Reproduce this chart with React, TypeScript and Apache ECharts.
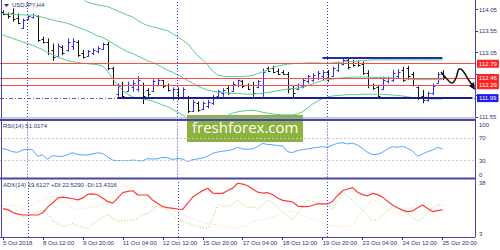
import { useEffect, useRef } from 'react';
import * as echarts from 'echarts';

const title = 'USDJPY,H4';
const tickLabels = ['5 Oct 2018', '8 Oct 12:00', '9 Oct 20:00', '11 Oct 04:00', '12 Oct 12:00', '15 Oct 20:00', '17 Oct 04:00', '18 Oct 12:00', '19 Oct 20:00', '23 Oct 04:00', '24 Oct 12:00', '25 Oct 20:00'];
const weekStarts = [5, 35, 65];
const emptyShift = 6;

const open = [114.0, 113.95, 113.96, 113.85, 113.63, 113.82, 113.87, 113.9, 113.36, 113.3,
  113.1, 112.98, 113.18, 113.1, 113.2, 113.3, 113.05, 112.97, 113.05, 113.08,
  113.14, 113.25, 112.7, 112.08, 112.3, 112.16, 112.25, 112.2, 112.3, 112.18,
  112.16, 112.3, 112.4, 112.3, 112.0, 112.2, 112.0, 112.0, 111.7, 111.88,
  111.74, 111.8, 111.88, 112.04, 112.1, 112.22, 112.15, 112.3, 112.38, 112.3,
  112.3, 112.25, 112.1, 112.68, 112.7, 112.62, 112.6, 112.56, 112.22, 112.2,
  112.28, 112.38, 112.42, 112.45, 112.5, 112.6, 112.5, 112.65, 112.78, 112.88,
  112.8, 112.8, 112.78, 112.58, 112.3, 112.25, 112.2, 112.38, 112.42, 112.5,
  112.65, 112.68, 112.55, 112.25, 112.05, 111.95, 112.1, 112.35, 112.55];
const close = [113.95, 113.9, 113.82, 113.74, 113.8, 113.9, 113.93, 113.35, 113.3, 113.05,
  112.95, 113.2, 113.05, 113.3, 113.32, 113.0, 112.95, 113.08, 113.12, 113.16,
  113.25, 112.7, 112.3, 112.28, 112.05, 112.3, 112.35, 112.42, 112.05, 112.08,
  112.38, 112.42, 112.28, 112.18, 112.2, 112.0, 112.2, 111.7, 111.9, 111.72,
  111.88, 111.9, 112.02, 112.15, 112.18, 112.12, 112.32, 112.4, 112.28, 112.2,
  112.1, 112.38, 112.6, 112.62, 112.6, 112.56, 112.55, 112.2, 112.1, 112.3,
  112.4, 112.5, 112.52, 112.58, 112.6, 112.45, 112.68, 112.8, 112.88, 112.72,
  112.76, 112.75, 112.58, 112.3, 112.22, 112.05, 112.42, 112.45, 112.58, 112.6,
  112.42, 112.5, 112.3, 112.0, 111.95, 112.1, 112.28, 112.55, 112.48];
const high = [114.03, 113.98, 114.08, 113.96, 113.84, 113.92, 113.96, 113.92, 113.42, 113.38,
  113.26, 113.26, 113.22, 113.38, 113.38, 113.34, 113.11, 113.11, 113.15, 113.2,
  113.28, 113.3, 112.72, 112.33, 112.37, 112.37, 112.41, 112.5, 112.35, 112.22,
  112.42, 112.45, 112.41, 112.33, 112.24, 112.24, 112.24, 112.04, 111.95, 111.91,
  111.91, 111.95, 112.06, 112.18, 112.22, 112.27, 112.37, 112.42, 112.41, 112.33,
  112.37, 112.41, 112.68, 112.72, 112.74, 112.68, 112.64, 112.6, 112.29, 112.33,
  112.45, 112.53, 112.57, 112.62, 112.64, 112.64, 112.72, 112.84, 112.92, 112.9,
  112.88, 112.86, 112.84, 112.64, 112.33, 112.29, 112.49, 112.49, 112.64, 112.66,
  112.72, 112.74, 112.6, 112.26, 112.18, 112.14, 112.33, 112.6, 112.64];
const low = [113.92, 113.84, 113.77, 113.71, 113.6, 113.8, 113.84, 113.3, 113.26, 112.99,
  112.86, 112.95, 112.99, 113.07, 113.11, 112.95, 112.91, 112.95, 112.99, 113.03,
  113.11, 112.64, 112.29, 112.02, 111.98, 112.14, 112.14, 112.14, 111.85, 112.02,
  112.14, 112.26, 112.22, 112.14, 111.95, 111.95, 111.96, 111.64, 111.67, 111.67,
  111.71, 111.75, 111.83, 112.02, 112.02, 112.06, 112.14, 112.24, 112.22, 112.18,
  112.02, 112.22, 112.02, 112.6, 112.57, 112.53, 112.53, 112.1, 111.98, 112.18,
  112.22, 112.33, 112.37, 112.41, 112.41, 112.37, 112.49, 112.6, 112.75, 112.66,
  112.72, 112.72, 112.53, 112.22, 112.18, 111.98, 112.18, 112.33, 112.37, 112.45,
  112.37, 112.41, 112.26, 111.95, 111.87, 111.91, 112.06, 112.33, 112.41];

const bbUpper = [114.95, 114.92, 114.9, 114.87, 114.85, 114.82, 114.78, 114.75, 114.7, 114.65,
  114.6, 114.55, 114.5, 114.45, 114.4, 114.35, 114.3, 114.22, 114.19, 114.16,
  114.14, 114.12, 114.07, 114.02, 113.97, 113.92, 113.88, 113.8, 113.73, 113.68,
  113.65, 113.62, 113.59, 113.56, 113.49, 113.42, 113.34, 113.26, 113.12, 112.98,
  112.88, 112.77, 112.62, 112.53, 112.5, 112.49, 112.49, 112.49, 112.49, 112.5,
  112.52, 112.56, 112.6, 112.64, 112.69, 112.73, 112.76, 112.78, 112.79, 112.8,
  112.8, 112.81, 112.81, 112.81, 112.8, 112.8, 112.81, 112.82, 112.83, 112.84,
  112.84, 112.85, 112.86, 112.87, 112.88, 112.88, 112.88, 112.88, 112.88, 112.88,
  112.88, 112.88, 112.88, 112.88, 112.88, 112.88, 112.88, 112.88, 112.88];
const bbMiddle = [113.96, 113.95, 113.94, 113.93, 113.93, 113.92, 113.92, 113.9, 113.87, 113.84,
  113.81, 113.78, 113.76, 113.73, 113.69, 113.64, 113.6, 113.55, 113.5, 113.44,
  113.4, 113.34, 113.27, 113.2, 113.13, 113.07, 113.03, 112.97, 112.92, 112.86,
  112.82, 112.77, 112.7, 112.64, 112.59, 112.53, 112.47, 112.4, 112.34, 112.27,
  112.22, 112.18, 112.15, 112.13, 112.12, 112.11, 112.1, 112.1, 112.09, 112.08,
  112.08, 112.09, 112.1, 112.12, 112.14, 112.16, 112.18, 112.2, 112.21, 112.22,
  112.24, 112.28, 112.32, 112.36, 112.4, 112.42, 112.43, 112.45, 112.46, 112.47,
  112.48, 112.48, 112.48, 112.48, 112.47, 112.47, 112.47, 112.46, 112.46, 112.45,
  112.44, 112.43, 112.43, 112.42, 112.42, 112.42, 112.42, 112.42, 112.42];
const bbLower = [113.46, 113.42, 113.38, 113.34, 113.3, 113.26, 113.22, 113.17, 113.12, 113.05,
  113.0, 112.95, 112.9, 112.86, 112.84, 112.82, 112.8, 112.79, 112.78, 112.77,
  112.74, 112.62, 112.45, 112.3, 112.17, 112.08, 112.02, 111.99, 111.97, 111.95,
  111.92, 111.88, 111.83, 111.79, 111.73, 111.66, 111.6, 111.52, 111.45, 111.42,
  111.4, 111.39, 111.4, 111.45, 111.52, 111.58, 111.64, 111.67, 111.69, 111.7,
  111.71, 111.69, 111.66, 111.64, 111.62, 111.61, 111.6, 111.6, 111.6, 111.62,
  111.67, 111.76, 111.85, 111.92, 111.98, 112.02, 112.04, 112.05, 112.06, 112.07,
  112.07, 112.07, 112.08, 112.08, 112.08, 112.08, 112.08, 112.07, 112.06, 112.05,
  112.04, 112.02, 112.0, 111.99, 111.98, 111.98, 111.97, 111.97, 111.97];

const rsi = [52, 49.5, 46, 45, 49, 50.5, 49.5, 38, 40, 32.5,
  39, 38, 37.5, 41, 44.5, 41, 40.5, 40, 42, 44,
  43, 37, 31, 30, 30.5, 30, 31, 30.5, 29.5, 33.5,
  33, 33.5, 36, 35, 32, 34, 33, 28.5, 32, 33,
  35, 38, 43, 45.5, 47, 48, 50, 54, 51, 50.5,
  51, 55, 61, 59, 58.5, 57, 56.5, 46, 44.5, 48,
  50, 51, 52.5, 54, 55, 53.5, 58, 61, 62, 60,
  61.5, 58, 52, 45, 41, 41.5, 45, 51, 55, 54,
  55.5, 52, 47, 38, 42, 46, 49, 54, 51.0174];
const adx = [20.4, 19.8, 18, 17, 16.5, 16.5, 16.5, 16.5, 18, 21.5,
  24, 27, 27.5, 27, 26.5, 25.8, 27, 29.3, 29.5, 28.8,
  26.8, 24.7, 23.8, 27, 30.2, 31, 31.4, 28.8, 28.8, 28.8,
  25.5, 23.5, 21.6, 21, 20.6, 20.2, 20, 24, 27.5, 29.5,
  31.5, 32.9, 30, 29.8, 29.8, 31.5, 33, 36, 35.5, 34.5,
  32.5, 30.5, 30, 30.2, 29, 27, 25.5, 25, 24.5, 22,
  21.6, 21.6, 22.5, 23.3, 23.3, 23.3, 25, 28.5, 31.4, 32.5,
  33.3, 30.5, 29, 28.3, 29.8, 29, 27.5, 25, 22.7, 21,
  19.5, 18.6, 19, 21, 22.7, 20.5, 18.6, 19.2, 19.6127];
const plusDI = [19.5, 19, 18.3, 17, 15.8, 16, 17.2, 18.5, 19.6, 17,
  13, 11, 9.5, 10.5, 11.4, 9.8, 8.8, 8.3, 11, 13.4,
  15, 17, 14.5, 12.6, 13, 13.2, 13.4, 14.5, 16.5, 17.5,
  20, 22.7, 21, 19.6, 16, 13.8, 12.5, 11.5, 10.4, 9.5,
  8.8, 8.3, 15, 22.7, 22, 21.6, 23.5, 25.7, 23, 21,
  21.5, 20.5, 23, 25.7, 24, 21.5, 18.5, 16, 13.5, 17.5,
  22, 25.7, 24.7, 23.7, 23.2, 22.7, 20, 25, 30.8, 28,
  25.7, 22.5, 19.6, 16.5, 13, 13.5, 16.5, 19.5, 21, 20.5,
  19, 17.5, 15, 13, 14.5, 18, 21, 22.7, 22.529];
const minusDI = [21.8, 22.2, 22.7, 21.5, 20, 21, 23, 24.5, 25.8, 27,
  28.2, 26, 24, 22.7, 21, 19.8, 20.5, 21.2, 21.6, 22.2,
  23, 23.7, 27.5, 32, 34.9, 34, 32.9, 29, 25.7, 23.5,
  21.6, 21.2, 20.9, 20.6, 19.5, 18, 16.5, 15.5, 14, 12.7,
  12, 11.3, 10.8, 10.4, 9.6, 9, 8.3, 8.8, 9.3, 10,
  12.5, 13, 13.4, 14.3, 15.5, 16.5, 18, 19.3, 18.5, 17.5,
  16, 15.5, 14, 12.5, 11.5, 10.4, 10, 9.5, 9.3, 9.8,
  10.4, 15, 19.6, 23, 26, 25, 22, 20, 18.5, 17,
  15.5, 18, 21.5, 25.7, 23, 19.6, 17, 15, 13.4316];

const redLevels = [112.79, 112.46, 112.29];
const supportLevel = 111.99;
const supportStart = 23;
const topLevel = 112.93;
const topStart = 64;
const rsiLevels = [30, 70];
const rsiTicks = [0, 30, 70, 100];

const NAVY = '#30307a';
const FRAME = '#4646a8';
const FONT = 'Liberation Sans';

export default function App() {
  const ref = useRef<HTMLDivElement>(null);
  useEffect(() => {
    if (!ref.current) return;
    const chart = echarts.init(ref.current, undefined, { renderer: 'svg' });
    const n = close.length;
    const total = n + emptyShift;
    const cats = Array.from({ length: total }, (_, i) => String(i));
    const ohlc = close.map((c, i) => [i, open[i], c, low[i], high[i]]);
    const isTick = (i: number) => i % 8 === 0 && i / 8 < tickLabels.length;
    const boxLevels = [...redLevels, supportLevel];
    const hiddenByBox = (v: number) => boxLevels.some((b) => Math.abs(b - v) < 0.12);
    const weekLines = weekStarts.map((w) => ({ xAxis: String(w) }));
    const weekMark = {
      silent: true, symbol: 'none', label: { show: false },
      lineStyle: { color: '#3a3ac8', type: [1, 2], width: 1 },
      data: weekLines,
    };
    const xBase = (gi: number) => ({
      type: 'category', gridIndex: gi, data: cats, boundaryGap: true,
      axisLine: { show: false }, axisTick: { show: false }, axisLabel: { show: false }, splitLine: { show: false },
    });
    const option: any = {
      animation: false,
      textStyle: { fontFamily: FONT },
      grid: [
        { left: 0, right: 25, top: 1, height: 116 },
        { left: 0, right: 25, top: 121.5, height: 56 },
        { left: 0, right: 25, top: 180, height: 57 },
      ],
      xAxis: [
        xBase(0), xBase(1),
        {
          ...xBase(2),
          axisLine: { show: true, lineStyle: { color: FRAME, width: 1 } },
          axisTick: { show: true, interval: (i: number) => isTick(i), alignWithLabel: true, length: 3, lineStyle: { color: NAVY } },
          axisLabel: {
            show: true, interval: (i: number) => isTick(i), align: 'left', fontSize: 6, color: NAVY, margin: 3,
            fontFamily: FONT, formatter: (_v: string, i: number) => tickLabels[i / 8] ?? '',
          },
        },
      ],
      yAxis: [
        {
          type: 'value', gridIndex: 0, position: 'right', min: 111.55, max: 114.25, interval: 0.5,
          axisLine: { show: false }, splitLine: { show: false },
          axisTick: { show: true, length: 3, lineStyle: { color: NAVY } },
          axisLabel: {
            fontSize: 6, color: NAVY, margin: 4, fontFamily: FONT, showMaxLabel: false,
            formatter: (v: number) => (hiddenByBox(v) ? '' : v.toFixed(2)),
          },
        },
        {
          type: 'value', gridIndex: 1, position: 'right', min: 0, max: 100, interval: 10,
          axisLine: { show: false }, splitLine: { show: false }, axisTick: { show: false },
          axisLabel: {
            fontSize: 6, color: NAVY, margin: 4, fontFamily: FONT,
            verticalAlignMinLabel: 'bottom', verticalAlignMaxLabel: 'top',
            formatter: (v: number) => (rsiTicks.includes(Math.round(v)) ? String(Math.round(v)) : ''),
          },
        },
        {
          type: 'value', gridIndex: 2, position: 'right', min: 3, max: 38, interval: 35,
          axisLine: { show: false }, splitLine: { show: false }, axisTick: { show: false },
          axisLabel: { fontSize: 6, color: NAVY, margin: 4, fontFamily: FONT, verticalAlignMinLabel: 'bottom', verticalAlignMaxLabel: 'top' },
        },
      ],
      series: [
        {
          type: 'line', name: 'bbU', xAxisIndex: 0, yAxisIndex: 0, data: bbUpper, symbol: 'none',
          lineStyle: { color: '#5cc98e', width: 1 }, silent: true,
        },
        {
          type: 'line', name: 'bbM', xAxisIndex: 0, yAxisIndex: 0, data: bbMiddle, symbol: 'none',
          lineStyle: { color: '#5cc98e', width: 1 }, silent: true,
        },
        {
          type: 'line', name: 'bbL', xAxisIndex: 0, yAxisIndex: 0, data: bbLower, symbol: 'none',
          lineStyle: { color: '#5cc98e', width: 1 }, silent: true,
          markLine: weekMark,
        },
        {
          type: 'line', name: 'levels', xAxisIndex: 0, yAxisIndex: 0, data: [], silent: true,
          markLine: {
            silent: true, symbol: 'none',
            data: [
              ...redLevels.map((v) => ({
                yAxis: v, lineStyle: { color: '#ff4a4a', width: 1, type: 'solid' },
                label: { show: true, position: 'end', formatter: v.toFixed(2), backgroundColor: '#ff2222', color: '#fff', fontSize: 6, padding: [1, 2, 1, 2], distance: 2, fontFamily: FONT },
              })),
              {
                yAxis: supportLevel, lineStyle: { color: '#5a5ad8', width: 1, type: [4, 2, 1, 2] },
                label: { show: true, position: 'end', formatter: supportLevel.toFixed(2), backgroundColor: '#1e1ee6', color: '#fff', fontSize: 6, padding: [1, 2, 1, 2], distance: 2, fontFamily: FONT },
              },
              [
                { coord: [String(supportStart), supportLevel], lineStyle: { color: '#1c1c90', width: 2, type: 'solid' }, label: { show: false } },
                { coord: [String(total - 1), supportLevel] },
              ],
              [
                { coord: [String(topStart), topLevel], lineStyle: { color: '#2a2aa8', width: 2, type: 'solid' }, label: { show: false } },
                { coord: [String(n - 1), topLevel] },
              ],
            ],
          },
        },
        {
          type: 'custom', name: 'price', xAxisIndex: 0, yAxisIndex: 0, data: ohlc, clip: true,
          encode: { x: 0, y: [1, 2, 3, 4] },
          renderItem: (_p: any, api: any) => {
            const i = api.value(0);
            const o = api.value(1), c = api.value(2), l = api.value(3), h = api.value(4);
            const pH = api.coord([i, h]);
            const pL = api.coord([i, l]);
            const pO = api.coord([i, o]);
            const pC = api.coord([i, c]);
            const color = c >= o ? '#2c2cf0' : '#141414';
            const x = Math.round(pH[0]) + 0.5;
            const st = { stroke: color, lineWidth: 1 };
            return {
              type: 'group',
              children: [
                { type: 'line', shape: { x1: x, y1: pH[1], x2: x, y2: pL[1] }, style: st },
                { type: 'line', shape: { x1: x - 2, y1: Math.round(pO[1]) + 0.5, x2: x, y2: Math.round(pO[1]) + 0.5 }, style: st },
                { type: 'line', shape: { x1: x, y1: Math.round(pC[1]) + 0.5, x2: x + 2, y2: Math.round(pC[1]) + 0.5 }, style: st },
              ],
            };
          },
        },
        {
          type: 'line', name: 'RSI', xAxisIndex: 1, yAxisIndex: 1, data: rsi, symbol: 'none',
          lineStyle: { color: '#4ea6ff', width: 1 }, silent: true,
          markLine: {
            silent: true, symbol: 'none', label: { show: false },
            data: [
              ...rsiLevels.map((v) => ({ yAxis: v, lineStyle: { color: '#c8c8c8', type: [2, 2], width: 1 } })),
              ...weekLines.map((w) => ({ ...w, lineStyle: { color: '#3a3ac8', type: [1, 2], width: 1 } })),
            ],
          },
        },
        {
          type: 'line', name: '+DI', xAxisIndex: 2, yAxisIndex: 2, data: plusDI, symbol: 'none',
          lineStyle: { color: '#a6d24a', width: 1, type: [1, 2] }, silent: true,
          markLine: weekMark,
        },
        {
          type: 'line', name: '-DI', xAxisIndex: 2, yAxisIndex: 2, data: minusDI, symbol: 'none',
          lineStyle: { color: '#ffcc99', width: 1, type: [1, 2] }, silent: true,
        },
        {
          type: 'line', name: 'ADX', xAxisIndex: 2, yAxisIndex: 2, data: adx, symbol: 'none',
          lineStyle: { color: '#ff3a3a', width: 1.2 }, silent: true,
        },
      ],
      graphic: [
        { type: 'line', shape: { x1: 1.5, y1: 0, x2: 1.5, y2: 237 }, style: { stroke: FRAME, lineWidth: 1 }, z: 10 },
        { type: 'line', shape: { x1: 475.5, y1: 0, x2: 475.5, y2: 237 }, style: { stroke: FRAME, lineWidth: 1 }, z: 10 },
        { type: 'line', shape: { x1: 0, y1: 118, x2: 476, y2: 118 }, style: { stroke: '#9a9ad0', lineWidth: 1 }, z: 10 },
        { type: 'rect', shape: { x: 0, y: 119, width: 476, height: 2 }, style: { fill: FRAME }, z: 10 },
        { type: 'rect', shape: { x: 0, y: 177.5, width: 476, height: 2 }, style: { fill: FRAME }, z: 10 },
        { type: 'polygon', shape: { points: [[4, 4], [9, 4], [6.5, 7]] }, style: { fill: NAVY }, z: 10 },
        { type: 'text', x: 12, y: 2, style: { text: title, fill: NAVY, fontSize: 6, fontFamily: FONT }, z: 10 },
        { type: 'text', x: 3, y: 123, style: { text: 'RSI(14) 51.0174', fill: NAVY, fontSize: 6, fontFamily: FONT }, z: 10 },
        { type: 'text', x: 3, y: 182, style: { text: 'ADX(14) 19.6127 +DI:22.5290 -DI:13.4316', fill: NAVY, fontSize: 6, fontFamily: FONT }, z: 10 },
        {
          type: 'group', z: 20, children: [
            { type: 'rect', shape: { x: 187, y: 115, width: 116, height: 27 }, style: { fill: '#8cb33e' } },
            { type: 'text', x: 192, y: 119, style: { text: 'freshforex.com', fill: '#ffffff', fontSize: 15, fontFamily: 'Open Sans' } },
          ],
        },
        {
          type: 'polyline', z: 15,
          shape: { points: [[441, 72], [447, 79], [452, 83], [456, 78], [459, 69], [463, 71], [468, 79], [472, 85]], smooth: 0.4 },
          style: { stroke: '#111', lineWidth: 1.5, fill: 'none' },
        },
        { type: 'polygon', z: 15, shape: { points: [[469, 86], [474, 82], [475, 90]] }, style: { fill: '#111' } },
      ],
    };
    chart.setOption(option);
    return () => chart.dispose();
  }, []);
  return <div ref={ref} style={{ position: 'fixed', left: 0, top: 0, width: 500, height: 250, background: '#fff' }} />;
}
